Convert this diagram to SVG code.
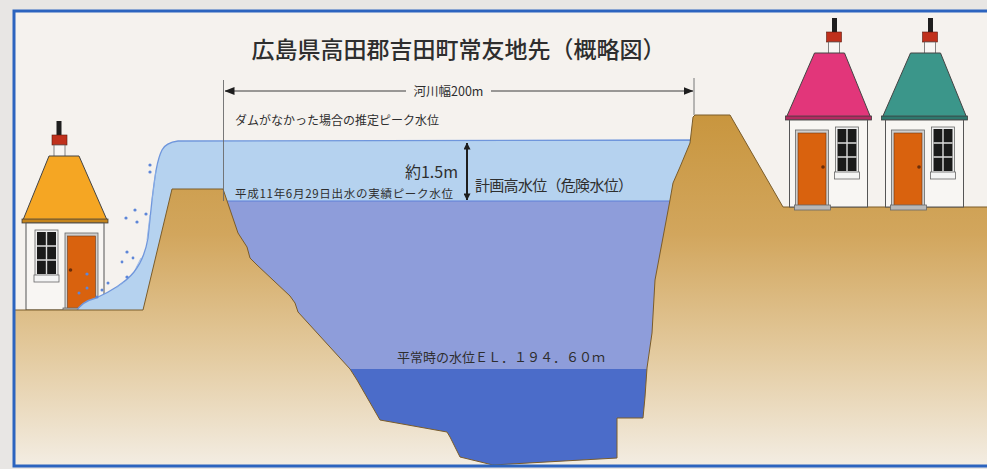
<svg xmlns="http://www.w3.org/2000/svg" xmlns:xlink="http://www.w3.org/1999/xlink" width="987" height="469" viewBox="0 0 987 469">
  <defs>
    <style>
      .jp { font-family: "Noto Sans CJK JP", "Noto Sans", sans-serif; fill: #2e2e2e; }
      .earth { fill: url(#soil); stroke: #7a5c2a; stroke-width: 1; stroke-linejoin: round; }
      .dim { stroke: #3c3c3c; stroke-width: 1; fill: none; }
      .ext { stroke: #6a6a6a; stroke-width: 0.9; fill: none; }
      .splash { fill: #5d86d8; }
      .streak { stroke: #8cb0e6; stroke-width: 0.8; fill: none; }
    </style>
    <linearGradient id="soil" gradientUnits="userSpaceOnUse" x1="0" y1="110" x2="0" y2="466">
      <stop offset="0" stop-color="#c8953d"/>
      <stop offset="0.35" stop-color="#d2a65d"/>
      <stop offset="0.7" stop-color="#e4cca2"/>
      <stop offset="1" stop-color="#f3ede3"/>
    </linearGradient>
    <marker id="arrow" viewBox="0 0 10 8" refX="9.5" refY="4" markerWidth="10" markerHeight="8" markerUnits="userSpaceOnUse" orient="auto-start-reverse">
      <path d="M0,0 L10,4 L0,8 Z" fill="#1e1e1e"/>
    </marker>
    <marker id="arrowSmall" viewBox="0 0 8 8" refX="7.5" refY="4" markerWidth="7" markerHeight="7" markerUnits="userSpaceOnUse" orient="auto-start-reverse">
      <path d="M0,0 L8,4 L0,8 Z" fill="#1e1e1e"/>
    </marker>
    <clipPath id="inside">
      <rect x="14" y="11" width="990" height="455"/>
    </clipPath>
    <!-- cottage drawn with its base centred on the origin; roof takes currentColor -->
    <g id="cottage">
      <rect x="3.5" y="-189" width="5" height="15" fill="#1e1e1e"/>
      <rect x="-2" y="-175" width="15" height="10" fill="#c0301c" stroke="#5a1a10" stroke-width="0.6"/>
      <rect x="0" y="-165" width="11" height="16" fill="#f8f6f4" stroke="#666" stroke-width="0.8"/>
      <polygon points="-42,-90 42,-90 16,-154 -14,-154" fill="currentColor" stroke="#444" stroke-width="1" stroke-linejoin="round"/>
      <rect x="-43" y="-91" width="86" height="4" fill="currentColor" stroke="#444" stroke-width="0.8"/>
      <rect x="-43" y="-91" width="86" height="4" fill="#000" opacity="0.2"/>
      <rect x="-39" y="-87" width="78" height="87" fill="#f8f6f3" stroke="#555" stroke-width="1"/>
      <rect x="-33" y="-77" width="33" height="77" fill="#cfcfcf" stroke="#666" stroke-width="0.8"/>
      <rect x="-30.5" y="-74" width="28" height="73" fill="#d9620e" stroke="#6b3a1a" stroke-width="0.6"/>
      <circle cx="-5.5" cy="-40" r="1.8" fill="#6b2e0a"/>
      <rect x="7" y="-80" width="23" height="46" fill="#eeeeee" stroke="#666" stroke-width="0.8"/>
      <rect x="9" y="-78" width="19" height="42" fill="#1a1a1a"/>
      <path d="M18.5,-78 V-36 M9,-64 H28 M9,-50 H28" stroke="#dddddd" stroke-width="1.4"/>
      <rect x="6" y="-35" width="25" height="7" fill="#f4f4f4" stroke="#666" stroke-width="0.8"/>
      <rect x="-34" y="-2" width="36" height="5" fill="#b8b8b8" stroke="#666" stroke-width="0.8"/>
    </g>
  </defs>

  <!-- paper and frame -->
  <rect x="0" y="0" width="987" height="469" fill="#e8e6e4"/>
  <rect x="14" y="11" width="990" height="455" fill="#f5f2ee"/>

  <g clip-path="url(#inside)">
    <!-- flooded cottage on the left bank -->
    <g id="house-left">
      <use xlink:href="#cottage" href="#cottage" transform="translate(65,310) scale(-1,1)" color="#f5a623"/>
    </g>

    <!-- water bodies -->
    <g id="water">
      <path id="flood" d="M76,312 C80,304 88,300 96,298 C110,292 126,282 134,272 C142,262 146,250 148,238 L152,200 C155,175 157,160 162,150 C165,144 170,142 178,141 L700,140 L700,314 Z" fill="#b5d2ef" stroke="#6f96dc" stroke-width="1.3"/>
      <path class="streak" d="M156,170 L152,200 M150,215 L147,240 M141,258 L136,268 M124,282 L116,288"/>
      <rect id="peak" x="220" y="201" width="460" height="270" fill="#8e9dda"/>
      <line x1="224" y1="201" x2="676" y2="201" stroke="#5c80d8" stroke-width="1.2"/>
      <rect id="normal" x="340" y="369" width="320" height="100" fill="#4b6cc9"/>
    </g>

    <!-- banks and levees -->
    <g id="ground">
      <polygon id="bank-left" class="earth" points="8,310 143,310 172,189 223,189 238,233 247,247 250,258 257,265 290,296 295,303 298,312 350,369 357,380 380,420 447,432 450,437 460,457 493,465 493,472 8,472"/>
      <polygon id="bank-right" class="earth" points="493,472 493,465 617,458 617,418 643,418 645,397 647,368 652,333 655,280 670,200 673,183 680,167 690,143 693,117 695,115 730,115 783,207 1004,207 1004,472"/>
    </g>

    <!-- spray over the left levee -->
    <g id="spray">
      <circle class="splash" cx="150" cy="165" r="1.6"/>
      <circle class="splash" cx="150" cy="172" r="1.6"/>
      <circle class="splash" cx="135" cy="210" r="1.6"/>
      <circle class="splash" cx="146" cy="214" r="1.6"/>
      <circle class="splash" cx="126" cy="218" r="1.6"/>
      <circle class="splash" cx="137" cy="222" r="1.6"/>
      <circle class="splash" cx="127" cy="252" r="1.6"/>
      <circle class="splash" cx="122" cy="262" r="1.4"/>
      <circle class="splash" cx="133" cy="258" r="1.4"/>
      <circle class="splash" cx="127" cy="277" r="1.6"/>
      <circle class="splash" cx="87" cy="274" r="1.6"/>
      <circle class="splash" cx="108" cy="283" r="1.5"/>
      <circle class="splash" cx="102" cy="290" r="1.5"/>
      <circle class="splash" cx="87" cy="288" r="1.5"/>
      <circle class="splash" cx="79" cy="293" r="1.5"/>
      <circle class="splash" cx="97" cy="297" r="1.5"/>
    </g>

    <!-- cottages on the right bank -->
    <g id="house-pink">
      <use xlink:href="#cottage" href="#cottage" transform="translate(828.5,207)" color="#e2367a"/>
    </g>
    <g id="house-teal">
      <use xlink:href="#cottage" href="#cottage" transform="translate(924.5,207)" color="#3b968a"/>
    </g>
  </g>

  <rect x="14" y="11" width="990" height="455" fill="none" stroke="#2c64bf" stroke-width="3"/>

  <!-- dimension lines -->
  <g id="connectors">
    <line class="ext" x1="223.5" y1="80" x2="223.5" y2="201"/>
    <line class="ext" x1="694" y1="78" x2="694" y2="115"/>
    <line class="dim" x1="225" y1="91" x2="406" y2="91" marker-start="url(#arrow)"/>
    <line class="dim" x1="491" y1="91" x2="693" y2="91" marker-end="url(#arrow)"/>
    <line x1="467" y1="143" x2="467" y2="200" stroke="#1e1e1e" stroke-width="2" marker-start="url(#arrowSmall)" marker-end="url(#arrowSmall)"/>
  </g>

  <!-- labels -->
  <g id="labels">
    <text class="jp" x="458.5" y="58" font-size="23" font-weight="500" text-anchor="middle" fill="#363636">広島県高田郡吉田町常友地先（概略図）</text>
    <text class="jp" x="448.5" y="95.5" font-size="12.5" text-anchor="middle">河川幅200m</text>
    <text class="jp" x="235" y="125" font-size="12">ダムがなかった場合の推定ピーク水位</text>
    <text class="jp" x="458" y="178" font-size="16" text-anchor="end">約1.5m</text>
    <text class="jp" x="235" y="198" font-size="11.5" textLength="218">平成11年6月29日出水の実績ピーク水位</text>
    <text class="jp" x="475" y="191" font-size="15" textLength="158">計画高水位（危険水位）</text>
    <text class="jp" x="397" y="362" font-size="13" fill="#1a1a1a">平常時の水位ＥＬ．１９４．６０ｍ</text>
  </g>
</svg>
